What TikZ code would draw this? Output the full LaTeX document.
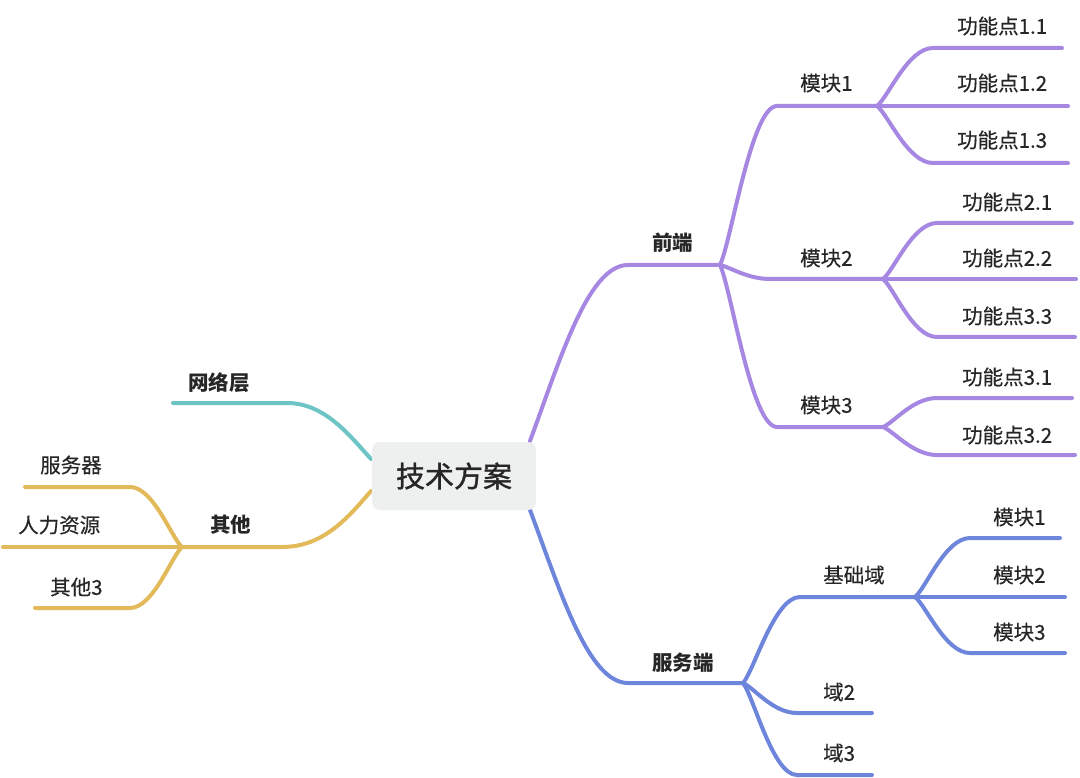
\documentclass[tikz,border=0pt]{standalone}
\usepackage{fontspec}
\setmainfont{Noto Sans CJK SC}
\newfontfamily\rootfont[FakeBold=1.2]{Noto Sans CJK SC}
\newfontfamily\lblfont[FakeBold=0.4]{Noto Sans CJK SC}
\usetikzlibrary{calc,backgrounds}
\definecolor{cpur}{RGB}{166,136,226}
\definecolor{cblu}{RGB}{110,133,220}
\definecolor{ctea}{RGB}{109,196,196}
\definecolor{cyel}{RGB}{226,186,90}
\definecolor{ctxt}{RGB}{38,38,38}
\definecolor{cbox}{RGB}{238,239,239}
\tikzset{
  br/.style={line width=4pt,line cap=round,line join=round},
  pu/.style={br,draw=cpur},
  bl/.style={br,draw=cblu},
  te/.style={br,draw=ctea},
  ye/.style={br,draw=cyel},
  lbl/.style={anchor=west,inner sep=0pt,text=ctxt,font=\lblfont\fontsize{20.5}{24}\selectfont},
  blbl/.style={anchor=west,inner sep=0pt,text=ctxt,font=\fontsize{20.5}{24}\selectfont\bfseries},
  rootbox/.style={fill=cbox,rounded corners=8pt,minimum width=164pt,minimum height=68pt,inner sep=0pt,text=ctxt,font=\rootfont\fontsize{29}{34}\selectfont}
}
\newcommand\mmbranch[4]{\draw[#1] let \p1=(#2), \p2=(#3) in (\p1) .. controls ({\x1+0.2*(\x2-\x1)},{\y1+0.15*(\y2-\y1)}) and ({\x1+0.55*(\x2-\x1)},\y2) .. (\p2) -- (#4);}
\begin{document}
\begin{tikzpicture}[x=1pt,y=-1pt]
\useasboundingbox (0,0) rectangle (1080,778);
\node[rootbox] (root) at (454,476) {技术方案};
% coordinates
\coordinate (pA) at (530,441);
\coordinate (pB) at (530,510);
\coordinate (pT) at (371,459);
\coordinate (pY) at (371,491);
\coordinate (qs) at (628,265); \coordinate (qj) at (720,265);
\coordinate (m1s) at (777,106); \coordinate (m1j) at (877,106);
\coordinate (f11s) at (933,48); \coordinate (f11e) at (1062,48);
\coordinate (f12e) at (1068,106);
\coordinate (f13s) at (933,163); \coordinate (f13e) at (1068,163);
\coordinate (m2s) at (770,279); \coordinate (m2j) at (883,279);
\coordinate (f21s) at (937,223); \coordinate (f21e) at (1072,223);
\coordinate (f22e) at (1076,279);
\coordinate (f33s) at (937,337); \coordinate (f33e) at (1075,337);
\coordinate (m3s) at (777,427); \coordinate (m3j) at (883,427);
\coordinate (f31s) at (937,398); \coordinate (f31e) at (1072,398);
\coordinate (f32s) at (937,455); \coordinate (f32e) at (1075,455);
\coordinate (ss) at (628,683); \coordinate (sj) at (743,683);
\coordinate (js) at (800,597); \coordinate (jj) at (915,597);
\coordinate (b1s) at (970,538); \coordinate (b1e) at (1060,538);
\coordinate (b2e) at (1065,597);
\coordinate (b3s) at (970,653); \coordinate (b3e) at (1065,653);
\coordinate (d2s) at (797,713); \coordinate (d2e) at (872,713);
\coordinate (d3s) at (797,775); \coordinate (d3e) at (872,775);
\coordinate (ts) at (287,403); \coordinate (te) at (173,403);
\coordinate (ys) at (282,547); \coordinate (yj) at (182,547);
\coordinate (y2e) at (3,547);
\coordinate (y1s) at (130,487); \coordinate (y1e) at (25,487);
\coordinate (y3s) at (130,608); \coordinate (y3e) at (35,608);
\begin{scope}[on background layer]
% main branches
\draw[pu] (pA) .. controls (560,360) and (588,265) .. (qs) -- (qj);
\draw[bl] (pB) .. controls (560,590) and (588,683) .. (ss) -- (sj);
\draw[te] (pT) .. controls (350,436) and (325,403) .. (ts) -- (te);
\draw[ye] (pY) .. controls (350,515) and (325,547) .. (ys) -- (yj);
% front end
\mmbranch{pu}{qj}{m1s}{m1j}
\mmbranch{pu}{qj}{m2s}{m2j}
\mmbranch{pu}{qj}{m3s}{m3j}
\mmbranch{pu}{m1j}{f11s}{f11e}
\draw[pu] (m1j) -- (f12e);
\mmbranch{pu}{m1j}{f13s}{f13e}
\mmbranch{pu}{m2j}{f21s}{f21e}
\draw[pu] (m2j) -- (f22e);
\mmbranch{pu}{m2j}{f33s}{f33e}
\mmbranch{pu}{m3j}{f31s}{f31e}
\mmbranch{pu}{m3j}{f32s}{f32e}
% server
\mmbranch{bl}{sj}{js}{jj}
\mmbranch{bl}{sj}{d2s}{d2e}
\mmbranch{bl}{sj}{d3s}{d3e}
\mmbranch{bl}{jj}{b1s}{b1e}
\draw[bl] (jj) -- (b2e);
\mmbranch{bl}{jj}{b3s}{b3e}
% others
\mmbranch{ye}{yj}{y1s}{y1e}
\draw[ye] (yj) -- (y2e);
\mmbranch{ye}{yj}{y3s}{y3e}
\end{scope}
% labels
\node[blbl] (qd) at (652,243) {前端};
\node[lbl] (m1) at (800,83) {模块1};
\node[lbl] (m2) at (800,258) {模块2};
\node[lbl] (m3) at (800,405) {模块3};
\node[lbl] (f11) at (957,26) {功能点1.1};
\node[lbl] (f12) at (957,83) {功能点1.2};
\node[lbl] (f13) at (957,140) {功能点1.3};
\node[lbl] (f21) at (962,202) {功能点2.1};
\node[lbl] (f22) at (962,258) {功能点2.2};
\node[lbl] (f33) at (962,316) {功能点3.3};
\node[lbl] (f31) at (962,377) {功能点3.1};
\node[lbl] (f32) at (962,435) {功能点3.2};
\node[blbl] (fwd) at (652,663) {服务端};
\node[lbl] (jc) at (823,575) {基础域};
\node[lbl] (b1) at (993,517) {模块1};
\node[lbl] (b2) at (993,575) {模块2};
\node[lbl] (b3) at (993,632) {模块3};
\node[lbl] (d2) at (823,692) {域2};
\node[lbl] (d3) at (823,753) {域3};
\node[blbl] (wl) at (188,383) {网络层};
\node[blbl] (qt) at (210,525) {其他};
\node[lbl] (y1) at (40,465) {服务器};
\node[lbl] (y2) at (18,525) {人力资源};
\node[lbl] (y3) at (50,587) {其他3};
\end{tikzpicture}
\end{document}
